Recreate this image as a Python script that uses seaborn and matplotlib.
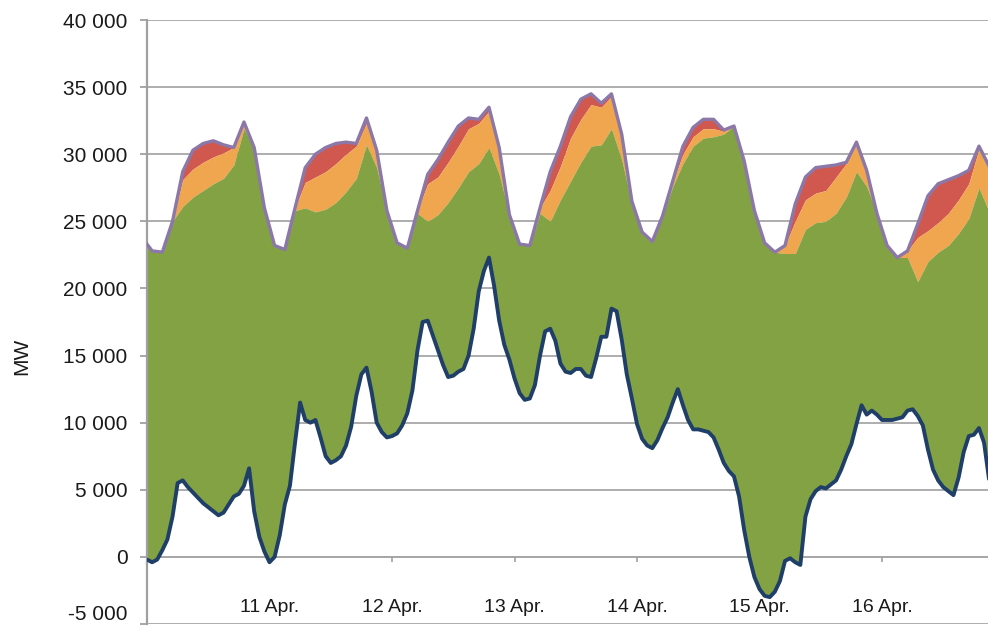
import numpy as np
import matplotlib
matplotlib.use("Agg")
import matplotlib.pyplot as plt
import matplotlib.ticker as mticker
from matplotlib.transforms import ScaledTranslation
import seaborn as sns

# Stundenwerte (2-h-Raster, ungerade Stunden) der gestapelten Flächen, in 1000 MW
hours_stack = np.arange(-1, 168, 2)
green_k = [23.8, 22.8, 22.7, 25.0, 26.1, 26.8, 27.3, 27.8, 28.2, 29.2, 31.9, 30.5,
           26.0, 23.2, 22.9, 25.8, 26.0, 25.7, 25.9, 26.4, 27.2, 28.2, 30.7, 29.0,
           25.8, 23.4, 23.0, 25.6, 25.0, 25.5, 26.4, 27.5, 28.7, 29.3, 30.5, 28.5,
           25.5, 23.3, 23.2, 25.6, 25.0, 26.6, 28.0, 29.4, 30.6, 30.7, 31.9, 29.6,
           26.3, 24.2, 23.5, 25.4, 27.6, 29.3, 30.6, 31.2, 31.3, 31.5, 32.1, 29.5,
           25.8, 23.4, 22.7, 22.6, 22.6, 24.4, 24.9, 25.0, 25.6, 26.8, 28.7, 27.6,
           25.6, 23.2, 22.3, 22.3, 20.5, 22.0, 22.7, 23.2, 24.1, 25.2, 27.5, 25.7,
           24.5]
orange_k = [0, 0, 0, 0, 2.0, 2.1, 2.1, 2.0, 1.9, 1.3, 0.5, 0,
            0, 0, 0, 0.2, 1.9, 2.6, 2.8, 2.9, 2.8, 2.4, 1.6, 1.3,
            0, 0, 0, 0.2, 2.8, 2.8, 3.0, 3.1, 3.2, 3.0, 2.7, 2.0,
            0, 0, 0, 0.4, 2.3, 2.5, 3.2, 3.2, 3.1, 2.8, 2.4, 1.9,
            0.2, 0, 0, 0, 0.3, 0.7, 0.7, 0.7, 0.6, 0.2, 0, 0,
            0, 0, 0, 0.6, 2.4, 2.2, 2.2, 2.3, 2.7, 2.5, 2.0, 1.2,
            0, 0, 0, 0.5, 3.3, 2.3, 2.2, 2.4, 2.5, 2.6, 2.9, 3.4,
            2.5]
red_k = [0, 0, 0, 0, 0.6, 1.4, 1.4, 1.2, 0.6, 0, 0, 0,
         0, 0, 0, 0, 1.1, 1.7, 1.8, 1.5, 0.9, 0.2, 0.4, 0,
         0, 0, 0, 0, 0.7, 1.3, 1.5, 1.5, 0.8, 0.3, 0.3, 0,
         0, 0, 0, 0, 1.4, 1.5, 1.6, 1.5, 0.8, 0.3, 0.2, 0,
         0, 0, 0, 0, 0.1, 0.6, 0.7, 0.7, 0.7, 0.1, 0, 0,
         0, 0, 0, 0, 1.3, 1.7, 1.9, 1.8, 0.9, 0.1, 0.2, 0,
         0, 0, 0, 0, 1.0, 2.6, 2.9, 2.5, 1.8, 1.0, 0.2, 0,
         0]

# Untere Linie (stündlich), in 1000 MW
hours_net = np.arange(0, 167)
net_k = [-0.2, -0.4, -0.2, 0.5, 1.3, 3.0, 5.5, 5.7, 5.2, 4.8, 4.4, 4.0,
         3.7, 3.4, 3.1, 3.3, 3.9, 4.5, 4.7, 5.3, 6.6, 3.4, 1.5, 0.4,
         -0.4, 0.0, 1.6, 3.9, 5.3, 8.5, 11.5, 10.2, 10.0, 10.2, 8.9, 7.5,
         7.0, 7.2, 7.5, 8.3, 9.7, 12.0, 13.6, 14.1, 12.3, 10.0, 9.3, 8.9,
         9.0, 9.2, 9.8, 10.7, 12.4, 15.4, 17.5, 17.6, 16.5, 15.4, 14.3, 13.4,
         13.5, 13.8, 14.0, 15.0, 17.0, 19.8, 21.3, 22.3, 20.2, 17.6, 15.8, 14.7,
         13.3, 12.2, 11.7, 11.8, 12.8, 15.0, 16.8, 17.0, 16.1, 14.4, 13.8, 13.7,
         14.0, 14.0, 13.5, 13.4, 14.8, 16.4, 16.4, 18.5, 18.3, 16.2, 13.6, 11.8,
         9.9, 8.8, 8.3, 8.1, 8.7, 9.6, 10.4, 11.5, 12.5, 11.3, 10.2, 9.5,
         9.5, 9.4, 9.3, 8.9, 8.0, 7.0, 6.4, 6.0, 4.5, 2.0, 0.0, -1.5,
         -2.4, -2.9, -3.0, -2.6, -1.8, -0.3, -0.1, -0.4, -0.6, 3.0, 4.3, 4.9,
         5.2, 5.1, 5.4, 5.7, 6.5, 7.5, 8.4, 9.9, 11.3, 10.6, 10.9, 10.6,
         10.2, 10.2, 10.2, 10.3, 10.4, 10.9, 11.0, 10.5, 9.8, 8.0, 6.5, 5.7,
         5.2, 4.9, 4.6, 5.9, 7.8, 9.0, 9.1, 9.6, 8.5, 5.7, 3.0]

day_ticks = [1, 2, 3, 4, 5, 6]
day_labels = ["11 Apr.", "12 Apr.", "13 Apr.", "14 Apr.", "15 Apr.", "16 Apr."]
y_ticks = list(range(-5000, 40001, 5000))

sns.set_style("white")
plt.rcParams["font.family"] = ["Liberation Sans", "DejaVu Sans"]

x_stack = hours_stack / 24
x_net = hours_net / 24
green = np.array(green_k) * 1000
orange_top = green + np.array(orange_k) * 1000
total = orange_top + np.array(red_k) * 1000
net = np.array(net_k) * 1000

fig = plt.figure(figsize=(9.88, 6.26), dpi=100)
ax = fig.add_axes([147 / 988, 2 / 626, 1 - 147 / 988, 604 / 626])

for v in y_ticks:
    ax.axhline(v, color="#a7a7a7", lw=1.3, zorder=0)

# Flächen
ax.fill_between(x_stack, orange_top, total, color="#d0584f", lw=0, zorder=2)
ax.fill_between(x_stack, green, orange_top, color="#f0a54f", lw=0, zorder=2)
green_fill = ax.fill_between(x_stack, -6000, green, color="#83a244", lw=0, zorder=2)

# grüne Fläche nur oberhalb der unteren Linie
mask = ax.fill_between(x_net, net, 45000, facecolor="none", edgecolor="none")
green_fill.set_clip_path(mask.get_paths()[0], ax.transData)

sns.lineplot(x=x_stack, y=total, color="#8c78a8", lw=2.4, ax=ax, zorder=4)
sns.lineplot(x=x_net, y=net, color="#1f3e68", lw=2.8, ax=ax, zorder=4)

ax.set_xlim(0, (988 - 147) / 122.5)
ax.set_ylim(-5000, 40000)
ax.set_yticks(y_ticks)
ax.yaxis.set_major_formatter(mticker.FuncFormatter(lambda v, p: f"{v:,.0f}".replace(",", " ")))
ax.set_xticks(day_ticks)
ax.set_xticklabels(day_labels)

for s in ["top", "right"]:
    ax.spines[s].set_visible(False)
ax.spines["left"].set_color("#a0a0a0")
ax.spines["left"].set_linewidth(1.6)
ax.spines["bottom"].set_position(("data", 0))
ax.spines["bottom"].set_color("#a7a7a7")
ax.spines["bottom"].set_linewidth(1.3)
ax.spines["bottom"].set_zorder(0)

ax.tick_params(axis="y", length=5, width=1.3, color="#a0a0a0", pad=9,
               labelsize=15, labelcolor="#1a1a1a", left=True)
ax.tick_params(axis="x", length=3.5, width=1.2, color="#a0a0a0", pad=27,
               labelsize=14, labelcolor="#1a1a1a", bottom=True)
ax.set_xlabel("")
ax.set_ylabel("")

# unterstes Label etwas anheben, damit es nicht abgeschnitten wird
low = ax.get_yticklabels()[0]
low.set_transform(low.get_transform() + ScaledTranslation(0, 8 / 72, fig.dpi_scale_trans))

fig.text(0.022, 0.431, "MW", rotation=90, ha="center", va="center",
         fontsize=15, color="#1a1a1a")

fig.savefig("out.png", dpi=100)
